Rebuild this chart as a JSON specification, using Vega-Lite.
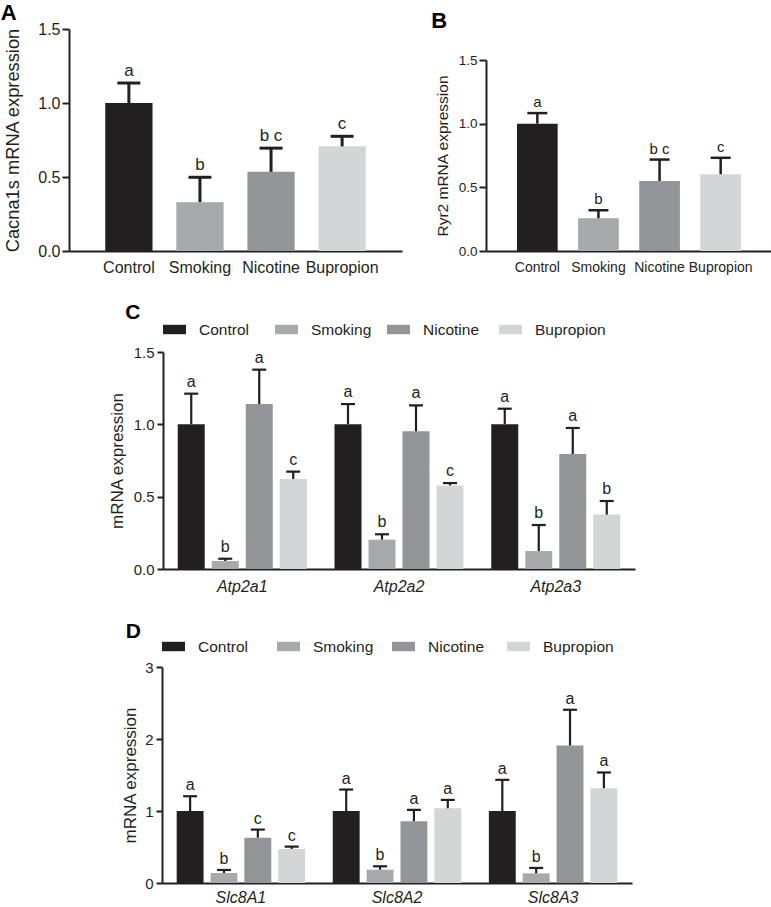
{
  "$schema": "https://vega.github.io/schema/vega-lite/v6.json",
  "padding": {"top": 2, "left": 0, "right": 0, "bottom": 0},
  "background": "white",
  "config": {
    "view": {"stroke": null},
    "font": "Liberation Sans",
    "axis": {"grid": false, "domainColor": "#231f20", "tickColor": "#231f20", "labelColor": "#231f20", "titleColor": "#231f20", "titleFontWeight": "normal", "domainWidth": 2, "tickWidth": 2},
    "title": {"color": "#000000", "fontWeight": "bold"},
    "legend": {"labelColor": "#231f20"}
  },
  "datasets": {
    "cacna": [
      {"group": "Control", "mean": 1.0, "upper": 1.135, "sig": "a"},
      {"group": "Smoking", "mean": 0.33, "upper": 0.498, "sig": "b"},
      {"group": "Nicotine", "mean": 0.535, "upper": 0.695, "sig": "b c"},
      {"group": "Bupropion", "mean": 0.707, "upper": 0.775, "sig": "c"}
    ],
    "ryr": [
      {"group": "Control", "mean": 1.0, "upper": 1.083, "sig": "a"},
      {"group": "Smoking", "mean": 0.257, "upper": 0.32, "sig": "b"},
      {"group": "Nicotine", "mean": 0.55, "upper": 0.718, "sig": "b c"},
      {"group": "Bupropion", "mean": 0.603, "upper": 0.732, "sig": "c"}
    ],
    "atp": [
      {"gene": "Atp2a1", "group": "Control", "mean": 1.0, "upper": 1.212, "sig": "a"},
      {"gene": "Atp2a1", "group": "Smoking", "mean": 0.055, "upper": 0.071, "sig": "b"},
      {"gene": "Atp2a1", "group": "Nicotine", "mean": 1.14, "upper": 1.378, "sig": "a"},
      {"gene": "Atp2a1", "group": "Bupropion", "mean": 0.622, "upper": 0.673, "sig": "c"},
      {"gene": "Atp2a2", "group": "Control", "mean": 1.0, "upper": 1.14, "sig": "a"},
      {"gene": "Atp2a2", "group": "Smoking", "mean": 0.203, "upper": 0.24, "sig": "b"},
      {"gene": "Atp2a2", "group": "Nicotine", "mean": 0.952, "upper": 1.131, "sig": "a"},
      {"gene": "Atp2a2", "group": "Bupropion", "mean": 0.578, "upper": 0.594, "sig": "c"},
      {"gene": "Atp2a3", "group": "Control", "mean": 1.0, "upper": 1.108, "sig": "a"},
      {"gene": "Atp2a3", "group": "Smoking", "mean": 0.124, "upper": 0.304, "sig": "b"},
      {"gene": "Atp2a3", "group": "Nicotine", "mean": 0.795, "upper": 0.975, "sig": "a"},
      {"gene": "Atp2a3", "group": "Bupropion", "mean": 0.376, "upper": 0.47, "sig": "b"}
    ],
    "slc": [
      {"gene": "Slc8A1", "group": "Control", "mean": 1.0, "upper": 1.205, "sig": "a"},
      {"gene": "Slc8A1", "group": "Smoking", "mean": 0.139, "upper": 0.181, "sig": "b"},
      {"gene": "Slc8A1", "group": "Nicotine", "mean": 0.63, "upper": 0.742, "sig": "c"},
      {"gene": "Slc8A1", "group": "Bupropion", "mean": 0.473, "upper": 0.505, "sig": "c"},
      {"gene": "Slc8A2", "group": "Control", "mean": 1.0, "upper": 1.298, "sig": "a"},
      {"gene": "Slc8A2", "group": "Smoking", "mean": 0.185, "upper": 0.232, "sig": "b"},
      {"gene": "Slc8A2", "group": "Nicotine", "mean": 0.858, "upper": 1.015, "sig": "a"},
      {"gene": "Slc8A2", "group": "Bupropion", "mean": 1.038, "upper": 1.154, "sig": "a"},
      {"gene": "Slc8A3", "group": "Control", "mean": 1.0, "upper": 1.433, "sig": "a"},
      {"gene": "Slc8A3", "group": "Smoking", "mean": 0.134, "upper": 0.209, "sig": "b"},
      {"gene": "Slc8A3", "group": "Nicotine", "mean": 1.91, "upper": 2.406, "sig": "a"},
      {"gene": "Slc8A3", "group": "Bupropion", "mean": 1.317, "upper": 1.535, "sig": "a"}
    ],
    "none": []
  },
  "spacing": 27,
  "resolve": {"scale": {"x": "independent", "y": "independent", "color": "independent", "xOffset": "independent"}, "legend": {"color": "independent"}},
  "vconcat": [
    {
      "spacing": 29,
      "resolve": {"scale": {"x": "independent", "y": "independent", "color": "independent"}, "legend": {"color": "independent"}},
      "hconcat": [
        {
          "width": 333, "height": 222,
          "title": {"text": "A", "anchor": "start", "frame": "bounds", "dx": -3, "fontSize": 22, "offset": -4},
          "data": {"name": "cacna"},
          "encoding": {
            "x": {"field": "group", "type": "nominal", "sort": ["Control", "Smoking", "Nicotine", "Bupropion"], "scale": {"paddingInner": 0.335, "paddingOuter": 0.51}, "axis": {"title": null, "labelAngle": 0, "ticks": false, "labelFontSize": 16, "labelPadding": 8}}
          },
          "layer": [
            {"mark": {"type": "bar"}, "encoding": {"y": {"field": "mean", "type": "quantitative", "scale": {"domain": [0, 1.5], "nice": false}, "axis": {"values": [0, 0.5, 1, 1.5], "format": ".1f", "title": "Cacna1s mRNA expression", "titleFontSize": 18.3, "labelFontSize": 16, "tickSize": 7, "labelPadding": 2, "titlePadding": 15}}, "color": {"field": "group", "type": "nominal", "scale": {"domain": ["Control", "Smoking", "Nicotine", "Bupropion"], "range": ["#231f20", "#a7a9ac", "#939598", "#d4d5d7"]}, "legend": null}}},
            {"mark": {"type": "rule", "strokeWidth": 3, "color": "#231f20"}, "encoding": {"y": {"field": "mean", "type": "quantitative"}, "y2": {"field": "upper"}}},
            {"mark": {"type": "tick", "thickness": 3, "size": 23, "color": "#231f20", "opacity": 1}, "encoding": {"y": {"field": "upper", "type": "quantitative"}}},
            {"mark": {"type": "text", "fontSize": 17, "dy": -7, "baseline": "alphabetic", "color": "#231f20"}, "encoding": {"y": {"field": "upper", "type": "quantitative"}, "text": {"field": "sig"}}}
          ]
        },
        {
          "width": 286, "height": 222,
          "title": {"text": "B", "anchor": "start", "frame": "bounds", "dx": -4, "fontSize": 22, "offset": -4},
          "data": {"name": "ryr"},
          "encoding": {
            "x": {"field": "group", "type": "nominal", "sort": ["Control", "Smoking", "Nicotine", "Bupropion"], "scale": {"paddingInner": 0.334, "paddingOuter": 0.507}, "axis": {"title": null, "labelAngle": 0, "ticks": false, "labelFontSize": 14, "labelPadding": 9}}
          },
          "layer": [
            {"mark": {"type": "bar"}, "encoding": {"y": {"field": "mean", "type": "quantitative", "scale": {"domain": [0, 1.5], "nice": false, "range": [222, 31]}, "axis": {"values": [0, 0.5, 1, 1.5], "format": ".1f", "title": "Ryr2 mRNA expression", "titleFontSize": 15.5, "labelFontSize": 13.5, "tickSize": 7, "labelPadding": 2, "titlePadding": 8}}, "color": {"field": "group", "type": "nominal", "scale": {"domain": ["Control", "Smoking", "Nicotine", "Bupropion"], "range": ["#231f20", "#a7a9ac", "#939598", "#d4d5d7"]}, "legend": null}}},
            {"mark": {"type": "rule", "strokeWidth": 2.5, "color": "#231f20"}, "encoding": {"y": {"field": "mean", "type": "quantitative"}, "y2": {"field": "upper"}}},
            {"mark": {"type": "tick", "thickness": 2.5, "size": 20, "color": "#231f20", "opacity": 1}, "encoding": {"y": {"field": "upper", "type": "quantitative"}}},
            {"mark": {"type": "text", "fontSize": 15, "dy": -6, "baseline": "alphabetic", "color": "#231f20"}, "encoding": {"y": {"field": "upper", "type": "quantitative"}, "text": {"field": "sig"}}}
          ]
        }
      ]
    },
    {
      "spacing": 0,
      "resolve": {"scale": {"x": "independent", "y": "independent", "color": "independent", "xOffset": "independent"}, "legend": {"color": "independent"}},
      "hconcat": [
        {"width": 39, "height": 10, "data": {"name": "none"}, "mark": "point"},
        {
          "width": 472, "height": 217,
          "title": {"text": "C", "anchor": "start", "frame": "bounds", "dx": 17, "fontSize": 21, "offset": -5},
          "data": {"name": "atp"},
          "encoding": {
            "x": {"field": "gene", "type": "nominal", "sort": ["Atp2a1", "Atp2a2", "Atp2a3"], "scale": {"paddingInner": 0.177, "paddingOuter": 0.094}, "axis": {"title": null, "labelAngle": 0, "ticks": false, "labelFontSize": 16, "labelFontStyle": "italic", "labelPadding": 9}},
            "xOffset": {"field": "group", "type": "nominal", "sort": ["Control", "Smoking", "Nicotine", "Bupropion"], "scale": {"paddingInner": 0.206, "paddingOuter": 0}}
          },
          "layer": [
            {"mark": {"type": "bar"}, "encoding": {"y": {"field": "mean", "type": "quantitative", "scale": {"domain": [0, 1.5], "nice": false}, "axis": {"values": [0, 0.5, 1, 1.5], "format": ".1f", "title": "mRNA expression", "titleFontSize": 17, "labelFontSize": 15, "tickSize": 6, "labelPadding": 3, "titlePadding": 7}}, "color": {"field": "group", "type": "nominal", "sort": ["Control", "Smoking", "Nicotine", "Bupropion"], "scale": {"domain": ["Control", "Smoking", "Nicotine", "Bupropion"], "range": ["#231f20", "#a7a9ac", "#939598", "#d4d5d7"]}, "legend": {"orient": "top", "direction": "horizontal", "title": null, "symbolType": "M-1,-0.41H1V0.41H-1Z", "symbolSize": 529, "symbolStrokeWidth": 0, "symbolOpacity": 1, "labelFontSize": 15.5, "labelOffset": 13, "gridAlign": "all", "columnPadding": 5, "offset": 14}}}},
            {"mark": {"type": "rule", "strokeWidth": 2.2, "color": "#231f20"}, "encoding": {"y": {"field": "mean", "type": "quantitative"}, "y2": {"field": "upper"}}},
            {"mark": {"type": "tick", "thickness": 2.2, "size": 14, "color": "#231f20", "opacity": 1}, "encoding": {"y": {"field": "upper", "type": "quantitative"}}},
            {"mark": {"type": "text", "fontSize": 16, "dy": -7, "baseline": "alphabetic", "color": "#231f20"}, "encoding": {"y": {"field": "upper", "type": "quantitative"}, "text": {"field": "sig"}}}
          ]
        }
      ]
    },
    {
      "spacing": 0,
      "resolve": {"scale": {"x": "independent", "y": "independent", "color": "independent", "xOffset": "independent"}, "legend": {"color": "independent"}},
      "hconcat": [
        {"width": 52, "height": 10, "data": {"name": "none"}, "mark": "point"},
        {
          "width": 470, "height": 216,
          "title": {"text": "D", "anchor": "start", "frame": "bounds", "dx": 4, "fontSize": 21, "offset": -7},
          "data": {"name": "slc"},
          "encoding": {
            "x": {"field": "gene", "type": "nominal", "sort": ["Slc8A1", "Slc8A2", "Slc8A3"], "scale": {"paddingInner": 0.177, "paddingOuter": 0.094}, "axis": {"title": null, "labelAngle": 0, "ticks": false, "labelFontSize": 16, "labelFontStyle": "italic", "labelPadding": 6}},
            "xOffset": {"field": "group", "type": "nominal", "sort": ["Control", "Smoking", "Nicotine", "Bupropion"], "scale": {"paddingInner": 0.206, "paddingOuter": 0}}
          },
          "layer": [
            {"mark": {"type": "bar"}, "encoding": {"y": {"field": "mean", "type": "quantitative", "scale": {"domain": [0, 3], "nice": false}, "axis": {"values": [0, 1, 2, 3], "format": "d", "title": "mRNA expression", "titleFontSize": 17, "labelFontSize": 15, "tickSize": 6, "labelPadding": 3, "titlePadding": 5}}, "color": {"field": "group", "type": "nominal", "sort": ["Control", "Smoking", "Nicotine", "Bupropion"], "scale": {"domain": ["Control", "Smoking", "Nicotine", "Bupropion"], "range": ["#231f20", "#a7a9ac", "#939598", "#d4d5d7"]}, "legend": {"orient": "top", "direction": "horizontal", "title": null, "symbolType": "M-1,-0.41H1V0.41H-1Z", "symbolSize": 529, "symbolStrokeWidth": 0, "symbolOpacity": 1, "labelFontSize": 15.5, "labelOffset": 13, "gridAlign": "all", "columnPadding": 8, "offset": 12}}}},
            {"mark": {"type": "rule", "strokeWidth": 2.2, "color": "#231f20"}, "encoding": {"y": {"field": "mean", "type": "quantitative"}, "y2": {"field": "upper"}}},
            {"mark": {"type": "tick", "thickness": 2.2, "size": 14, "color": "#231f20", "opacity": 1}, "encoding": {"y": {"field": "upper", "type": "quantitative"}}},
            {"mark": {"type": "text", "fontSize": 16, "dy": -6, "baseline": "alphabetic", "color": "#231f20"}, "encoding": {"y": {"field": "upper", "type": "quantitative"}, "text": {"field": "sig"}}}
          ]
        }
      ]
    }
  ]
}
